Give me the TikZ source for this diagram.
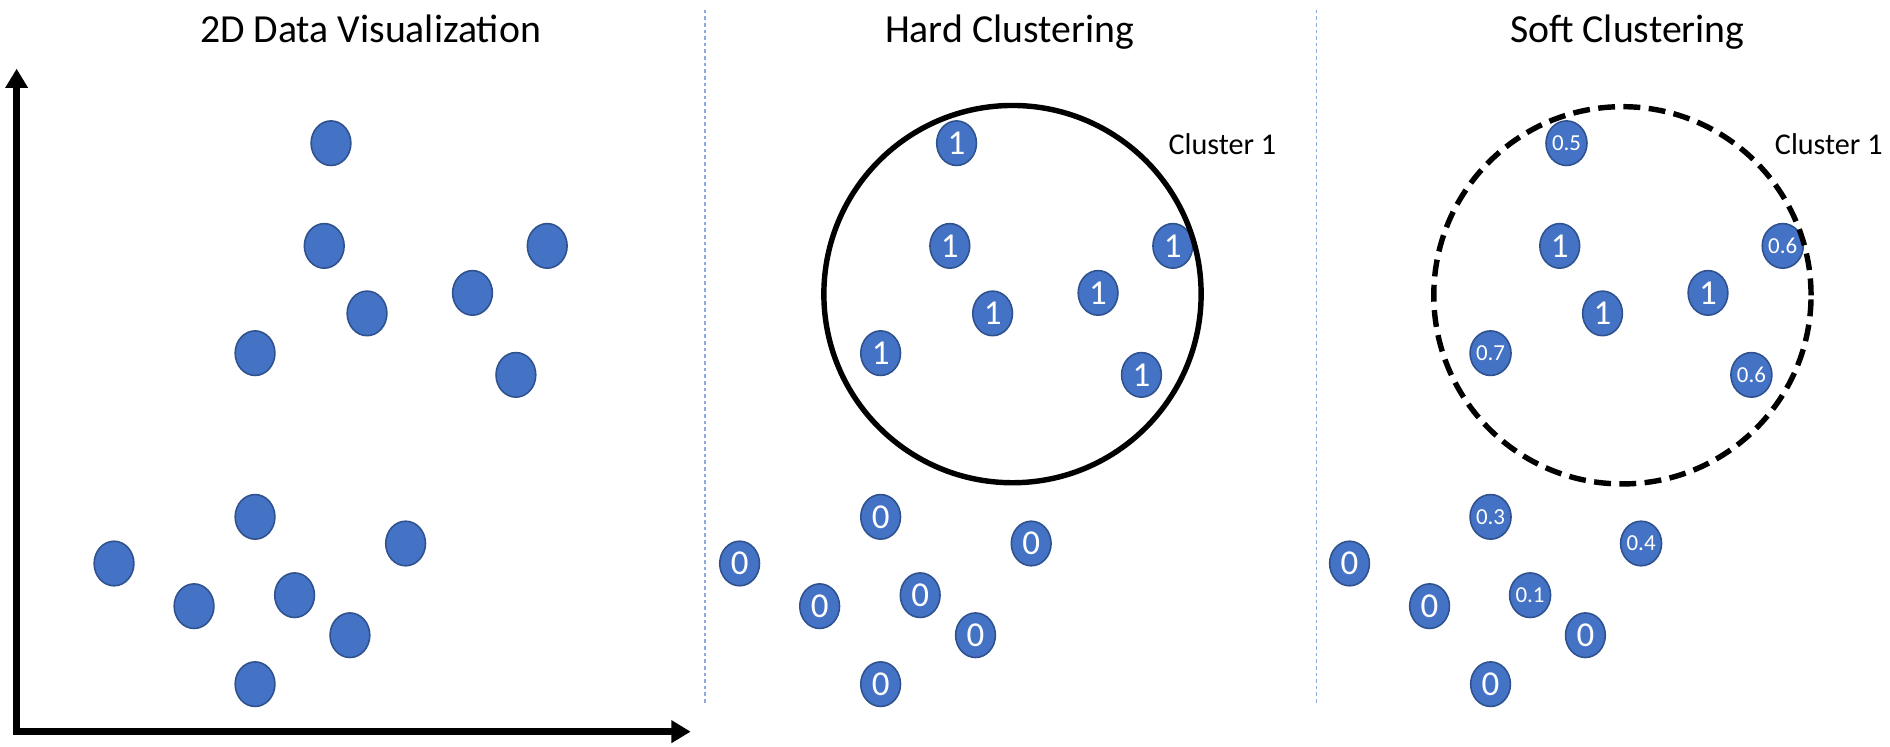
\documentclass[tikz,border=0pt]{standalone}
\usepackage{fontspec}
\setmainfont{Carlito}
\usetikzlibrary{arrows.meta,shapes.geometric}
\definecolor{dotblue}{HTML}{4472C4}
\definecolor{dotedge}{HTML}{2F528F}
\definecolor{divblue}{HTML}{8FAADC}
\begin{document}
\begin{tikzpicture}[x=1pt,y=-1pt,
  dot/.style={ellipse,fill=dotblue,draw=dotedge,line width=1.3pt,
    minimum width=33pt,minimum height=37pt,inner sep=0pt,text=white},
  big/.style={font=\fontsize{29}{30}\selectfont},
  small/.style={font=\fontsize{19}{20}\selectfont},
  title/.style={anchor=base,font=\fontsize{33}{36}\selectfont},
  clabel/.style={anchor=base west,font=\fontsize{25}{28}\selectfont},
  divider/.style={divblue,line width=1.2pt,dash pattern=on 3pt off 2.5pt},
  axis/.style={line width=5.5pt,{Triangle[length=16pt,width=18pt]}-{Triangle[length=16pt,width=18pt]}},
  cluster/.style={circle,draw=black,line width=4.5pt,minimum size=313pt,inner sep=0pt}]
\useasboundingbox (0,0) rectangle (1568,619.7);
% titles
\node[title] (t1) at (307.5,35.5) {2D Data Visualization};
\node[title] (t2) at (837.5,35.5) {Hard Clustering};
\node[title] (t3) at (1350,35.5) {Soft Clustering};
% dividers
\coordinate (d1a) at (585,8);
\coordinate (d1b) at (585,583);
\coordinate (d2a) at (1092,8);
\coordinate (d2b) at (1092,583);
\draw[divider] (d1a) -- (d1b);
\draw[divider] (d2a) -- (d2b);
% axes
\coordinate (ytip) at (13.8,57);
\coordinate (origin) at (13.8,607);
\coordinate (xtip) at (573,607);
\draw[axis] (ytip) -- (origin) -- (xtip);
% left panel points
\foreach \n/\x/\y in {A/274.6/118.8,B/269/204,C/454/204,D/392/243,E/304.5/260,
  F/211.6/293,G/428/311,H/211.6/428.8,I/336.5/450.9,J/94.6/467.5,
  K/161/502.9,L/244.4/493.8,M/290.3/527,N/211.6/567.6}
  {\node[dot] (L\n) at (\x,\y) {};}
% hard clustering points
\foreach \n/\x/\y/\t in {A/274.6/118.8/1,B/269/204/1,C/454/204/1,D/392/243/1,E/304.5/260/1,
  F/211.6/293/1,G/428/311/1,H/211.6/428.8/0,I/336.5/450.9/0,J/94.6/467.5/0,
  K/161/502.9/0,L/244.4/493.8/0,M/290.3/527/0,N/211.6/567.6/0}
  {\node[dot,big] (H\n) at ({\x+519},\y) {\t};}
% soft clustering points
\foreach \n/\x/\y/\t/\s in {A/274.6/118.8/0.5/small,B/269/204/1/big,C/454/204/0.6/small,
  D/392/243/1/big,E/304.5/260/1/big,F/211.6/293/0.7/small,G/428/311/0.6/small,
  H/211.6/428.8/0.3/small,I/336.5/450.9/0.4/small,J/94.6/467.5/0/big,
  K/161/502.9/0/big,L/244.4/493.8/0.1/small,M/290.3/527/0/big,N/211.6/567.6/0/big}
  {\node[dot,\s] (S\n) at ({\x+1025},\y) {\t};}
% clusters
\node[cluster] (hc) at (840,244) {};
\node[cluster,dash pattern=on 14pt off 7pt] (sc) at (1346,245) {};
\node[clabel] (hl) at (966,127.8) {Cluster 1};
\node[clabel] (sl) at (1469,127.8) {Cluster 1};
\end{tikzpicture}
\end{document}
